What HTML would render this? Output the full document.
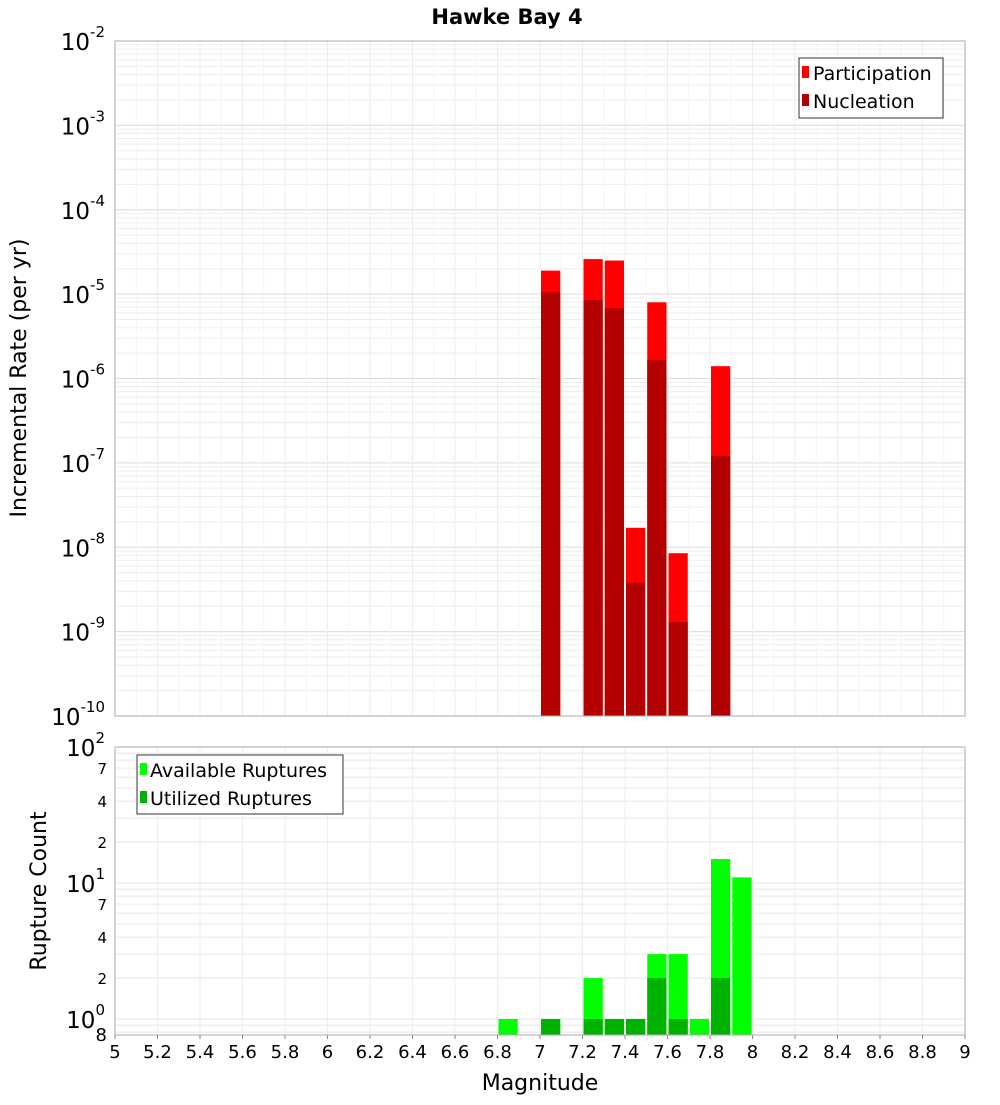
<!DOCTYPE html>
<html><head><meta charset="utf-8">
<style>
body{margin:0;background:#fff;font-family:"Liberation Sans","DejaVu Sans",sans-serif;}
svg text{font-family:"DejaVu Sans","Liberation Sans",sans-serif;}
</style></head>
<body>
<svg id="chart" width="1000" height="1100" xmlns="http://www.w3.org/2000/svg">
<text x="507" y="24" text-anchor="middle" font-size="21" font-weight="bold">Hawke Bay 4</text>
<g id="topg"></g><g id="botg"></g>
<text transform="translate(26,378) rotate(-90)" text-anchor="middle" font-size="22">Incremental Rate (per yr)</text>
<text transform="translate(46,891) rotate(-90)" text-anchor="middle" font-size="22">Rupture Count</text>
<text x="540" y="1090" text-anchor="middle" font-size="22">Magnitude</text>
</svg>
<script>
const binCenters=[7.05,7.25,7.35,7.45,7.55,7.65,7.85];
const participation=[1.9e-5,2.6e-5,2.5e-5,1.7e-8,8e-6,8.5e-9,1.4e-6];
const nucleation=[1.05e-5,8.5e-6,6.8e-6,3.8e-9,1.65e-6,1.3e-9,1.2e-7];
const countCenters=[6.85,7.05,7.25,7.35,7.45,7.55,7.65,7.75,7.85,7.95];
const available=[1,1,2,1,1,3,3,1,15,11];
const utilized=[0,1,1,1,1,2,1,0,2,0];
const xTicks=[5,5.2,5.4,5.6,5.8,6,6.2,6.4,6.6,6.8,7,7.2,7.4,7.6,7.8,8,8.2,8.4,8.6,8.8,9];
const topExps=[-2,-3,-4,-5,-6,-7,-8,-9,-10];
const botMinorLabels=[2,4,7,20,40,70];

const NS="http://www.w3.org/2000/svg";
const L=115,R=965;
const xs=m=>L+(m-5)/4*(R-L);
const T1=41,B1=716; const yTop=v=>T1+(-2-Math.log10(v))/8*(B1-T1);
const T2=747,B2=1035; const yBot=v=>1019-Math.log10(v)*136;
function mk(p,tag,a){const e=document.createElementNS(NS,tag);for(const k in a)e.setAttribute(k,a[k]);p.appendChild(e);return e;}
const topG=document.getElementById('topg'),botG=document.getElementById('botg');

for(let e=-10;e<-2;e++)for(let k=1;k<10;k++){const y=yTop(k*Math.pow(10,e));
 const g=mk(topG,'line',{x1:L,x2:R,y1:y,y2:y,stroke:k==1?'#dcdcdc':'#ededed','stroke-width':1});
 
 }
xTicks.forEach(t=>{const g=mk(topG,'line',{x1:xs(t),x2:xs(t),y1:T1,y2:B1,stroke:'#ececec'});
 
 });
for(let m=5.1;m<9;m+=0.2){const g=mk(topG,'line',{x1:xs(m),x2:xs(m),y1:T1,y2:B1,stroke:'#f3f3f3'});
 
 }
binCenters.forEach((c,i)=>{
 const x0=xs(c-0.05)+1,w=xs(c+0.05)-xs(c-0.05)-2;
 let r=mk(topG,'rect',{x:x0,y:yTop(participation[i]),width:w,height:B1-yTop(participation[i]),fill:'#ff0000'});
 
 
 r=mk(topG,'rect',{x:x0,y:yTop(nucleation[i]),width:w,height:B1-yTop(nucleation[i]),fill:'#b30000'});
 
 
});
let f=mk(topG,'rect',{x:L,y:T1,width:R-L,height:B1-T1,fill:'none',stroke:'#aaa'});


topExps.forEach(e=>{const y=yTop(Math.pow(10,e));
 const t=mk(topG,'text',{x:105,y:y+9,'text-anchor':'end','font-size':23});
 
 
 t.textContent='10';const s=mk(t,'tspan',{dy:-13,'font-size':15});s.textContent=String(e);});
let lg=mk(topG,'g',{});


mk(lg,'rect',{x:799,y:58,width:144,height:60,fill:'#fff',stroke:'#333'});
[['Participation','#ff0000',73],['Nucleation','#b30000',101]].forEach(([n,c,y])=>{
 const r=mk(lg,'rect',{x:802,y:y-7,width:7,height:12,fill:c});
 
 
 const t=mk(lg,'text',{x:813,y:y+7,'font-size':19});t.textContent=n;
 
 });

const botGrid=[0.8,0.9,1,2,3,4,5,6,7,8,9,10,20,30,40,50,60,70,80,90,100];
botGrid.forEach(v=>{const y=yBot(v);if(y>B2+1)return;
 const g=mk(botG,'line',{x1:L,x2:R,y1:y,y2:y,stroke:'#e6e6e6'});
 
 });
xTicks.forEach(t=>{const g=mk(botG,'line',{x1:xs(t),x2:xs(t),y1:T2,y2:B2,stroke:'#ececec'});
 
 });
countCenters.forEach((c,i)=>{
 const x0=xs(c-0.05)+1,w=xs(c+0.05)-xs(c-0.05)-2;
 let r=mk(botG,'rect',{x:x0,y:yBot(available[i]),width:w,height:B2-yBot(available[i]),fill:'#00ff00'});
 
 
 if(utilized[i]>0){r=mk(botG,'rect',{x:x0,y:yBot(utilized[i]),width:w,height:B2-yBot(utilized[i]),fill:'#00b300'});
 
 }
});
f=mk(botG,'rect',{x:L,y:T2,width:R-L,height:B2-T2,fill:'none',stroke:'#aaa'});


[[100,'2'],[10,'1'],[1,'0']].forEach(([v,e])=>{const y=yBot(v);
 const t=mk(botG,'text',{x:105,y:y+9,'text-anchor':'end','font-size':23});
 
 
 t.textContent='10';const s=mk(t,'tspan',{dy:-13,'font-size':15});s.textContent=e;});
botMinorLabels.forEach(v=>{const t=mk(botG,'text',{x:107,y:yBot(v)+6,'text-anchor':'end','font-size':15});
 t.textContent=String(v>=10?v/10:v);
 
 });
let t8=mk(botG,'text',{x:107,y:1041,'text-anchor':'end','font-size':18});t8.textContent='8';


lg=mk(botG,'g',{});


mk(lg,'rect',{x:137,y:755,width:206,height:59,fill:'#fff',stroke:'#333'});
[['Available Ruptures','#00ff00',770],['Utilized Ruptures','#00b300',798]].forEach(([n,c,y])=>{
 const r=mk(lg,'rect',{x:140,y:y-7,width:7,height:12,fill:c});
 
 
 const t=mk(lg,'text',{x:150,y:y+7,'font-size':19});t.textContent=n;
 
 });
xTicks.forEach(v=>{const t=mk(botG,'text',{x:xs(v),y:1058,'text-anchor':'middle','font-size':18});
 t.textContent=String(v);
 
 
 const k=mk(botG,'line',{x1:xs(v),x2:xs(v),y1:B2,y2:B2+4,stroke:'#888'});
 
 });
</script>
</body></html>
